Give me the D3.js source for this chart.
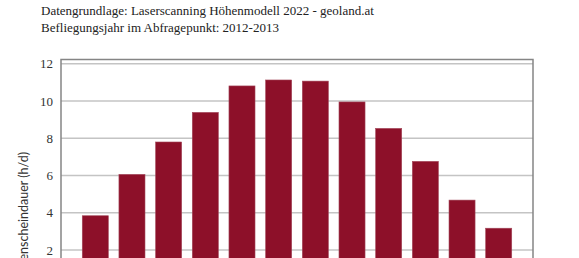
<!DOCTYPE html>
<html>
<head>
<meta charset="utf-8">
<script src="https://cdn.jsdelivr.net/npm/d3@7"></script>
<style>
    body { margin: 0; background: #fff; }
    svg { display: block; }
</style>
</head>
<body>
<div id="chart"></div>
<script>
(function () {
    "use strict";

    const months = ["Jan", "Feb", "Mär", "Apr", "Mai", "Jun", "Jul", "Aug", "Sep", "Okt", "Nov", "Dez"];
    const sunHours = [3.84, 6.06, 7.80, 9.39, 10.81, 11.13, 11.07, 9.95, 8.53, 6.76, 4.68, 3.17];
    const yTicks = [2, 4, 6, 8, 10, 12];
    const infoLines = [
        "Datengrundlage: Laserscanning Höhenmodell 2022 - geoland.at",
        "Befliegungsjahr im Abfragepunkt: 2012-2013"
    ];

    const width = 579;
    const height = 258;
    const plot = { left: 61, right: 533, top: 59.5, zero: 287.25 };

    const svg = d3.select("#chart")
        .append("svg")
        .attr("width", width)
        .attr("height", height);

    svg.append("g")
        .selectAll("text")
        .data(infoLines)
        .join("text")
        .attr("x", 41)
        .attr("y", (d, i) => 15 + i * 17)
        .style("font", "13px 'Liberation Serif', serif")
        .attr("fill", "#222")
        .text((d) => d);

    const x = d3.scaleBand()
        .domain(months)
        .range([plot.left, plot.right])
        .paddingInner(0.29)
        .paddingOuter(0.58);

    const y = d3.scaleLinear()
        .domain([0, 12.23])
        .range([plot.zero, plot.top]);

    // gridlines
    svg.append("g")
        .selectAll("line")
        .data(yTicks)
        .join("line")
        .attr("x1", plot.left)
        .attr("x2", plot.right)
        .attr("y1", (d) => y(d))
        .attr("y2", (d) => y(d))
        .attr("stroke", "#c4c4c4")
        .attr("stroke-width", 1.5);

    // bars (the chart continues below the visible window)
    svg.append("g")
        .selectAll("rect")
        .data(months)
        .join("rect")
        .attr("x", (d) => x(d))
        .attr("width", x.bandwidth())
        .attr("y", (d, i) => y(sunHours[i]))
        .attr("height", (d, i) => y(0) - y(sunHours[i]))
        .attr("fill", "#8d1029")
        .attr("stroke", "#a3475a")
        .attr("stroke-width", 0.6);

    // frame
    svg.append("rect")
        .attr("x", plot.left)
        .attr("y", plot.top)
        .attr("width", plot.right - plot.left)
        .attr("height", y(0) - plot.top)
        .attr("fill", "none")
        .attr("stroke", "#858585")
        .attr("stroke-width", 1.5);

    const yAxis = svg.append("g")
        .attr("transform", `translate(${plot.left},0)`)
        .call(d3.axisLeft(y).tickValues(yTicks).tickSize(0).tickPadding(8));
    yAxis.select(".domain").remove();
    yAxis.selectAll("text")
        .style("font", "13px 'Liberation Serif', serif")
        .attr("fill", "#333");

    svg.append("text")
        .attr("transform", "translate(28,152) rotate(-90)")
        .attr("text-anchor", "end")
        .style("font", "12.5px Lato, sans-serif")
        .attr("fill", "#333")
        .text("Sonnenscheindauer (h/d)");
})();
</script>
</body>
</html>
